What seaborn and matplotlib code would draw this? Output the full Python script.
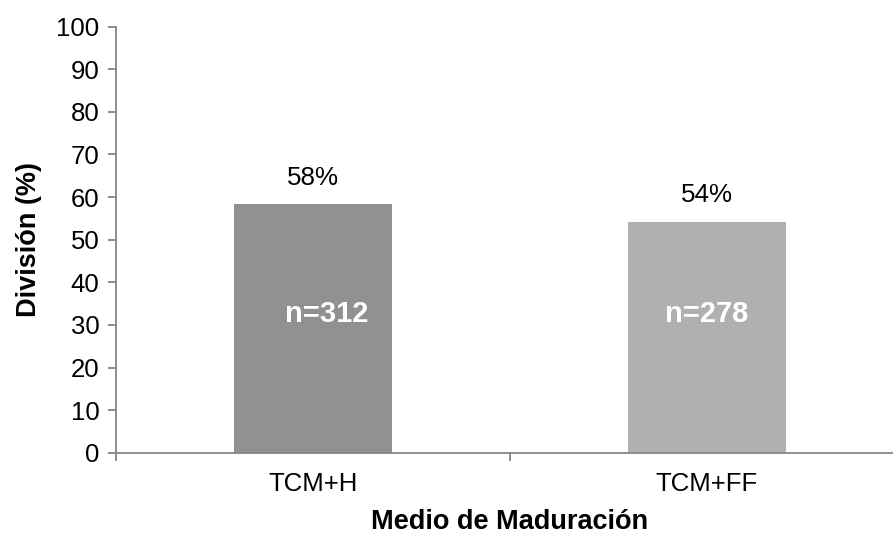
import matplotlib
matplotlib.use("Agg")
import matplotlib.pyplot as plt
from matplotlib.ticker import FixedLocator
import seaborn as sns
import pandas as pd

# Data
categories = ["TCM+H", "TCM+FF"]
division_pct = [58.3, 54.1]
sample_sizes = [312, 278]
bar_colors = ["#919191", "#b0b0b0"]

sns.set_theme(style="white")
plt.rcParams["font.family"] = ["Liberation Sans", "DejaVu Sans"]
plt.rcParams["text.color"] = "black"
plt.rcParams["axes.labelcolor"] = "black"

df = pd.DataFrame({"medio": categories, "division": division_pct})

fig = plt.figure(figsize=(8.93, 5.36), dpi=100)
ax = fig.add_axes([0.1299, 0.1554, 0.8824, 0.7948])

sns.barplot(data=df, x="medio", y="division", hue="medio",
            palette=bar_colors, width=0.4, legend=False, ax=ax,
            saturation=1, linewidth=0)

ax.set_ylim(0, 100)
ax.set_xlim(-0.5, 1.5)
ax.set_yticks(range(0, 101, 10))

axis_gray = "#868686"
for side in ["top", "right"]:
    ax.spines[side].set_visible(False)
for side in ["left", "bottom"]:
    ax.spines[side].set_color(axis_gray)
    ax.spines[side].set_linewidth(1.3)

ax.tick_params(axis="y", which="major", length=6, width=1.3, color=axis_gray,
               labelsize=18.5, pad=6, left=True, labelcolor="black")
ax.tick_params(axis="x", which="major", length=0, labelsize=18.5, pad=14,
               labelcolor="black")
ax.xaxis.set_minor_locator(FixedLocator([-0.5, 0.5, 1.5]))
ax.tick_params(axis="x", which="minor", length=6, width=1.3, color=axis_gray,
               bottom=True, direction="out")

ax.set_xlabel("Medio de Maduración", fontsize=19.5, fontweight="bold",
              labelpad=9)
ax.set_ylabel("División (%)", fontsize=19.5, fontweight="bold", labelpad=10)

# Value labels above bars and sample sizes inside bars
n_shift = [0.035, 0.0]
for i, (v, n) in enumerate(zip(division_pct, sample_sizes)):
    ax.text(i, v + 6.3, f"{v:.0f}%", ha="center", va="center", fontsize=18.7,
            color="black")
    ax.text(i + n_shift[i], 32.6, f"n={n}", ha="center", va="center",
            fontsize=21, fontweight="bold", color="white")

fig.savefig("out.png", dpi=100)
